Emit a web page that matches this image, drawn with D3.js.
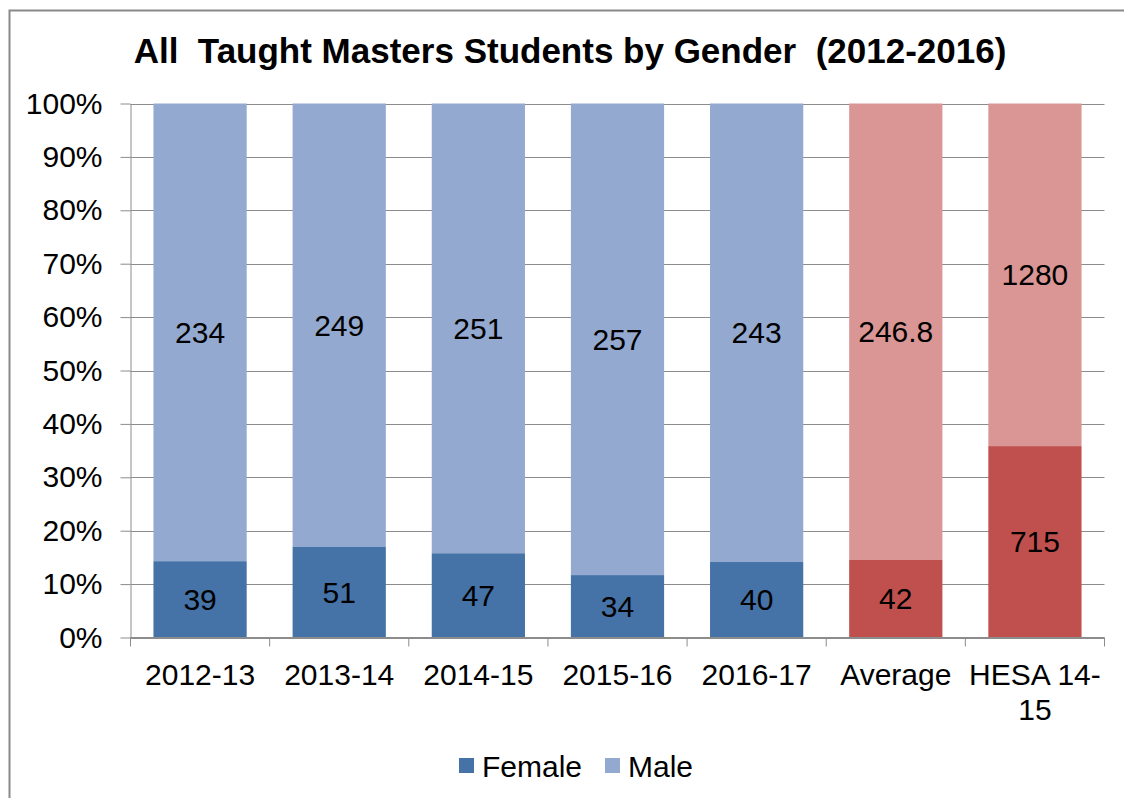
<!DOCTYPE html>
<html>
<head>
<meta charset="utf-8">
<script src="https://cdn.jsdelivr.net/npm/d3@7"></script>
<style>
  body { margin: 0; background: #fff; }
  svg { font-family: "Liberation Sans", Arial, sans-serif; display: block; }
</style>
</head>
<body>
<svg id="chart"></svg>
<script>
const categories = ['2012-13', '2013-14', '2014-15', '2015-16', '2016-17', 'Average', 'HESA 14-15'];
const female = [39, 51, 47, 34, 40, 42, 715];
const male = [234, 249, 251, 257, 243, 246.8, 1280];
const yTicks = [0, 0.1, 0.2, 0.3, 0.4, 0.5, 0.6, 0.7, 0.8, 0.9, 1];
const seriesNames = ['Female', 'Male'];

// colours: first five bars blue, last two red
const femaleColors = ['#4572a7', '#4572a7', '#4572a7', '#4572a7', '#4572a7', '#c0504d', '#c0504d'];
const maleColors = ['#93a9cf', '#93a9cf', '#93a9cf', '#93a9cf', '#93a9cf', '#d99694', '#d99694'];

const W = 1124, H = 798;
const svg = d3.select('#chart').attr('width', W).attr('height', H);

// outer border
svg.append('rect')
    .attr('x', 9.5).attr('y', 10.5)
    .attr('width', 1130).attr('height', 800)
    .attr('fill', 'none')
    .attr('stroke', '#898989')
    .attr('stroke-width', 2);

const plot = { left: 130.5, right: 1104.5, top: 103.5, bottom: 637.5 };

const x = d3.scaleBand()
    .domain(categories)
    .range([plot.left, plot.right])
    .paddingInner(0.33)
    .paddingOuter(0.165);

const y = d3.scaleLinear()
    .domain([0, 1])
    .range([plot.bottom, plot.top]);

// title
svg.append('text')
    .attr('x', 570).attr('y', 63)
    .attr('text-anchor', 'middle')
    .style('font-size', '35px')
    .style('font-weight', 'bold')
    .style('white-space', 'pre')
    .text('All  Taught Masters Students by Gender  (2012-2016)');

// gridlines
svg.append('g')
    .selectAll('line')
    .data(yTicks)
    .enter()
    .append('line')
    .attr('x1', plot.left).attr('x2', plot.right)
    .attr('y1', d => Math.round(y(d)) + 0.5)
    .attr('y2', d => Math.round(y(d)) + 0.5)
    .attr('stroke', '#8c8c8c')
    .attr('stroke-width', 1);

// stacked 100% bars
const rows = categories.map((c, i) => {
    const total = female[i] + male[i];
    return { cat: c, i: i, f: female[i], m: male[i], fp: female[i] / total };
});

const bars = svg.append('g').selectAll('g')
    .data(rows)
    .enter()
    .append('g');

bars.append('rect')
    .attr('x', d => x(d.cat))
    .attr('width', x.bandwidth())
    .attr('y', d => y(1))
    .attr('height', d => y(d.fp) - y(1))
    .attr('fill', d => maleColors[d.i]);

bars.append('rect')
    .attr('x', d => x(d.cat))
    .attr('width', x.bandwidth())
    .attr('y', d => y(d.fp))
    .attr('height', d => y(0) - y(d.fp))
    .attr('fill', d => femaleColors[d.i]);

// data labels
bars.append('text')
    .attr('x', d => x(d.cat) + x.bandwidth() / 2)
    .attr('y', d => (y(1) + y(d.fp)) / 2)
    .attr('dy', '0.35em')
    .attr('text-anchor', 'middle')
    .style('font-size', '30px')
    .text(d => d.m);

bars.append('text')
    .attr('x', d => x(d.cat) + x.bandwidth() / 2)
    .attr('y', d => (y(0) + y(d.fp)) / 2)
    .attr('dy', '0.35em')
    .attr('text-anchor', 'middle')
    .style('font-size', '30px')
    .text(d => d.f);

// y axis
const yAxis = svg.append('g')
    .attr('transform', `translate(${plot.left},0)`)
    .call(d3.axisLeft(y).tickValues(yTicks).tickFormat(d3.format('.0%')).tickSize(10).tickSizeOuter(0).tickPadding(18));
yAxis.select('.domain').attr('stroke', '#8c8c8c');
yAxis.selectAll('.tick line').attr('stroke', '#8c8c8c');
yAxis.selectAll('.tick text').style('font-size', '30px').attr('fill', '#000');

// x axis with ticks between categories
const xAxisG = svg.append('g');
xAxisG.append('line')
    .attr('x1', plot.left).attr('x2', plot.right)
    .attr('y1', plot.bottom).attr('y2', plot.bottom)
    .attr('stroke', '#8c8c8c');
xAxisG.selectAll('line.sep')
    .data(d3.range(categories.length + 1))
    .enter()
    .append('line')
    .attr('class', 'sep')
    .attr('x1', i => plot.left + i * (plot.right - plot.left) / categories.length)
    .attr('x2', i => plot.left + i * (plot.right - plot.left) / categories.length)
    .attr('y1', plot.bottom).attr('y2', plot.bottom + 9)
    .attr('stroke', '#8c8c8c');

const xLabels = xAxisG.selectAll('text')
    .data(categories)
    .enter()
    .append('text')
    .attr('x', d => x(d) + x.bandwidth() / 2)
    .attr('y', 685)
    .attr('text-anchor', 'middle')
    .style('font-size', '30px')
    .text(d => d);

// wrap labels that are wider than a category step
xLabels.each(function(d) {
    const t = d3.select(this);
    if (this.getComputedTextLength() <= x.step() - 4) return;
    const cut = d.lastIndexOf('-') + 1;
    const cx = t.attr('x');
    t.text(null);
    t.append('tspan').attr('x', cx).text(d.slice(0, cut));
    t.append('tspan').attr('x', cx).attr('dy', 35).text(d.slice(cut));
});

// legend
const legendX = [459, 605];
const legendColors = ['#4572a7', '#93a9cf'];
const legend = svg.append('g').selectAll('g')
    .data(seriesNames)
    .enter()
    .append('g')
    .attr('transform', (d, i) => `translate(${legendX[i]},758)`);
legend.append('rect')
    .attr('width', 15).attr('height', 15)
    .attr('fill', (d, i) => legendColors[i]);
legend.append('text')
    .attr('x', 23).attr('y', 19)
    .style('font-size', '30px')
    .text(d => d);
</script>
</body>
</html>
